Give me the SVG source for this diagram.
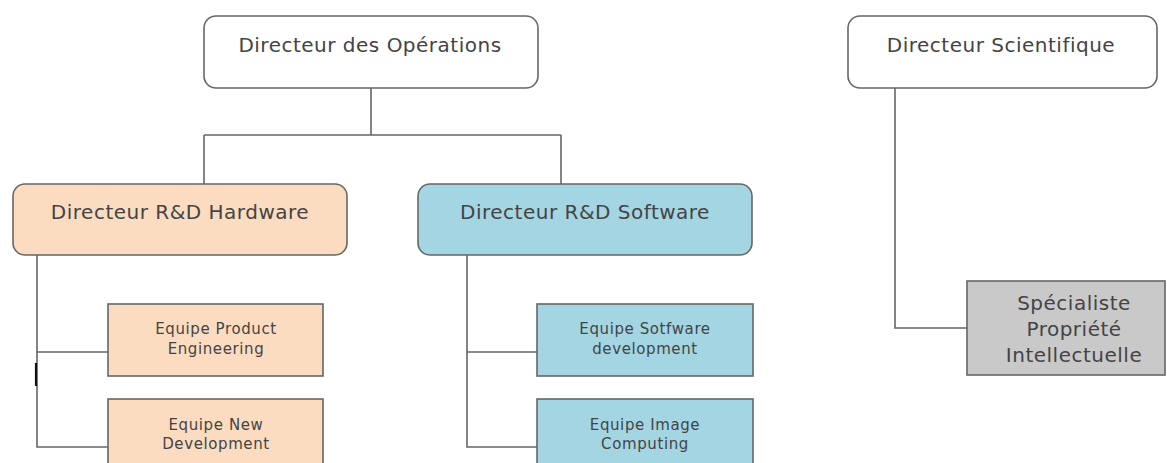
<svg xmlns="http://www.w3.org/2000/svg" width="1167" height="463" viewBox="0 0 1167 463">
<style>
.box{stroke:#666;stroke-width:1.6}
.w{fill:#fff}.hw{fill:#fbdcc0}.sw{fill:#a3d5e3}.gr{fill:#c9c9c9}
text{font-family:"DejaVu Sans","Liberation Sans",sans-serif;fill:#444;text-anchor:middle}
.big{font-size:20px;letter-spacing:0.5px}
.sm{font-size:15px;letter-spacing:0.6px}
.mid{font-size:20px;letter-spacing:0.5px}
.con{fill:none;stroke:#666;stroke-width:1.6}
</style>
<rect width="1167" height="463" fill="#fff"/>
<g id="connectors">
<path class="con" d="M371 88V135M204 135H561M204 135V184M561 135V184"/>
<path class="con" d="M37 255V447H108M37 352H108"/>
<path class="con" d="M467 255V447H537M467 352H537"/>
<path class="con" d="M895 88V328H967"/>
<line x1="36" y1="363" x2="36" y2="386" stroke="#111" stroke-width="2.2"/>
</g>
<g id="ops"><rect class="box w" x="204" y="16" width="334" height="72" rx="12"/><text class="big" x="370" y="52">Directeur des Opérations</text></g>
<g id="sci"><rect class="box w" x="848" y="16" width="309" height="72" rx="12"/><text class="big" x="1001" y="52">Directeur Scientifique</text></g>
<g id="hw"><rect class="box hw" x="13" y="184" width="334" height="71" rx="12"/><text class="big" x="180" y="219">Directeur R&amp;D Hardware</text></g>
<g id="sw"><rect class="box sw" x="418" y="184" width="334" height="71" rx="12"/><text class="big" x="585" y="219">Directeur R&amp;D Software</text></g>
<g id="pe"><rect class="box hw" x="108" y="304" width="215" height="72"/><text class="sm" x="216" y="334">Equipe Product</text><text class="sm" x="216" y="354">Engineering</text></g>
<g id="nd"><rect class="box hw" x="108" y="399" width="215" height="72"/><text class="sm" x="216" y="430">Equipe New</text><text class="sm" x="216" y="449">Development</text></g>
<g id="sd"><rect class="box sw" x="537" y="304" width="216" height="72"/><text class="sm" x="645" y="334">Equipe Sotfware</text><text class="sm" x="645" y="354">development</text></g>
<g id="ic"><rect class="box sw" x="537" y="399" width="216" height="72"/><text class="sm" x="645" y="430">Equipe Image</text><text class="sm" x="645" y="449">Computing</text></g>
<g id="spi"><rect class="box gr" x="967" y="281" width="198" height="94"/><text class="mid" x="1074" y="310">Spécialiste</text><text class="mid" x="1074" y="336">Propriété</text><text class="mid" x="1074" y="362">Intellectuelle</text></g>
</svg>
